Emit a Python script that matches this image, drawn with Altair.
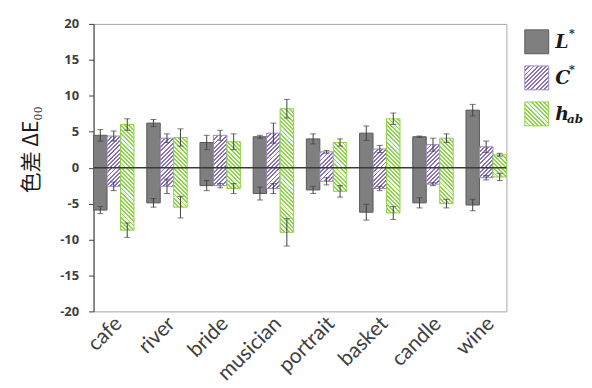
import altair as alt

categories = ["cafe", "river", "bride", "musician", "portrait", "basket", "candle", "wine"]
series = ["L", "C", "h"]

L_pos = [4.5, 6.2, 3.5, 4.3, 4.0, 4.8, 4.3, 8.0]
L_pos_err = [0.8, 0.5, 1.0, 0.2, 0.7, 1.0, 0.1, 0.8]
L_neg = [-5.9, -4.9, -2.5, -3.6, -3.1, -6.2, -4.9, -5.2]
L_neg_err = [0.5, 0.6, 0.7, 0.9, 0.5, 1.1, 0.7, 0.8]

C_pos = [4.4, 4.1, 4.5, 4.8, 2.2, 2.6, 3.2, 2.9]
C_pos_err = [0.7, 0.6, 0.7, 1.4, 0.2, 0.5, 0.9, 0.8]
C_neg = [-2.6, -2.6, -2.5, -2.9, -1.9, -2.9, -2.3, -1.4]
C_neg_err = [0.6, 1.0, 0.3, 0.7, 0.5, 0.3, 0.2, 0.3]

h_pos = [6.0, 4.2, 3.6, 8.2, 3.5, 6.8, 4.1, 1.8]
h_pos_err = [0.8, 1.2, 1.1, 1.3, 0.5, 0.8, 0.6, 0.2]
h_neg = [-8.7, -5.5, -2.9, -9.0, -3.3, -6.3, -5.0, -1.3]
h_neg_err = [1.0, 1.5, 0.7, 1.9, 0.8, 0.9, 0.6, 0.5]

y_ticks = [-20, -15, -10, -5, 0, 5, 10, 15, 20]

# ---- styling ----
PLOT_W, PLOT_H = 415, 289
PAD_INNER = 0.24
PX_PER_UNIT = PLOT_H / 40.0
BAR_W = PLOT_W / (len(categories) - PAD_INNER) * (1 - PAD_INNER) / 3

GRAY_FILL, GRAY_STROKE = "#7f7f7f", "#5a5a5a"
PURPLE_LINE, PURPLE_BG, PURPLE_STROKE = "#8a70b4", "#ffffff", "#9c88c6"
GREEN_LINE, GREEN_BG, GREEN_STROKE = "#92d050", "#f1f9ea", "#92d050"


def hatch(W, H, direction, line, bg, period=4.2, frac=0.45):
    W = max(W, 1.0)
    H = max(H, 1.0)
    total = W + H
    k = total / (W * W + H * H)
    if direction == "/":
        x1, y1, x2, y2 = 0, 0, k * W, k * H
    else:
        x1, y1, x2, y2 = 0, 1, k * W, 1 - k * H
    stops = []
    i = 0
    while i * period < total:
        a = i * period / total
        b = min((i + frac) * period / total, 1.0)
        c = min((i + 1) * period / total, 1.0)
        stops += [
            {"offset": a, "color": line},
            {"offset": b, "color": line},
            {"offset": b, "color": bg},
            {"offset": c, "color": bg},
        ]
        i += 1
    return {"gradient": "linear", "x1": x1, "y1": y1, "x2": x2, "y2": y2, "stops": stops}


def fill_for(ser, W, H):
    if ser == "L":
        return GRAY_FILL
    if ser == "C":
        return hatch(W, H, "/", PURPLE_LINE, PURPLE_BG)
    return hatch(W, H, "\\", GREEN_LINE, GREEN_BG)


stroke_of = {"L": GRAY_STROKE, "C": PURPLE_STROKE, "h": GREEN_STROKE}

vals = {
    "L": [(L_pos, L_pos_err), (L_neg, L_neg_err)],
    "C": [(C_pos, C_pos_err), (C_neg, C_neg_err)],
    "h": [(h_pos, h_pos_err), (h_neg, h_neg_err)],
}

bar_rows = []
err_rows = []
for s in series:
    for arr, errs in vals[s]:
        for cat, v, e in zip(categories, arr, errs):
            bar_rows.append({
                "cat": cat, "ser": s, "v": v,
                "grad": fill_for(s, BAR_W, abs(v) * PX_PER_UNIT),
                "stroke": stroke_of[s],
            })
            err_rows.append({"cat": cat, "ser": s, "lo": v - e, "hi": v + e})

x_enc = alt.X("cat:N", sort=categories,
              scale=alt.Scale(paddingInner=PAD_INNER, paddingOuter=0),
              axis=alt.Axis(title=None, labelAngle=-45, labelAlign="right",
                            labelBaseline="middle", labelFontSize=21,
                            labelFont="Lato", labelColor="#404040",
                            ticks=False, domain=False, labelPadding=9,
                            labelOffset=5))
xoff_enc = alt.XOffset("ser:N", sort=series,
                       scale=alt.Scale(domain=series, paddingInner=0, paddingOuter=0))
y_scale = alt.Scale(domain=[-20, 20], nice=False, zero=False)
y_axis = alt.Axis(values=y_ticks, tickCount=9, grid=False, title="色差 ΔE₀₀",
                  titleFont="Noto Sans CJK JP", titleFontSize=21,
                  titleFontWeight="normal", titleColor="#1a1a1a",
                  titleX=-62, titleY=126, titleAngle=-90,
                  titleAlign="center", titleBaseline="middle",
                  labelFontSize=13, labelFontWeight="bold",
                  labelFont="Open Sans", labelColor="#404040",
                  labelExpr="datum.value + ''",
                  labelOverlap=False, labelFlush=False,
                  domainColor="#404040", tickColor="#404040",
                  tickSize=5, labelPadding=10)

bars = alt.Chart(alt.Data(values=bar_rows)).mark_bar(strokeWidth=1).encode(
    x=x_enc,
    xOffset=xoff_enc,
    y=alt.Y("v:Q", stack=None, scale=y_scale, axis=y_axis),
    fill=alt.Fill("grad:N", scale=None),
    stroke=alt.Stroke("stroke:N", scale=None),
)

err_base = alt.Chart(alt.Data(values=err_rows)).encode(x=x_enc, xOffset=xoff_enc)
err_rule = err_base.mark_rule(color="#404040", strokeWidth=1).encode(
    y=alt.Y("lo:Q", scale=y_scale, axis=y_axis), y2="hi:Q")
cap_lo = err_base.mark_tick(color="#404040", thickness=1, size=6).encode(
    y=alt.Y("lo:Q", scale=y_scale, axis=y_axis))
cap_hi = err_base.mark_tick(color="#404040", thickness=1, size=6).encode(
    y=alt.Y("hi:Q", scale=y_scale, axis=y_axis))

zero = alt.Chart(alt.Data(values=[{"z": 0}])).mark_rule(
    color="#3a3a3a", strokeWidth=1.5).encode(
    y=alt.Y("z:Q", scale=y_scale, axis=y_axis))

main = alt.layer(bars, zero, err_rule, cap_lo, cap_hi).properties(
    width=PLOT_W, height=PLOT_H)

# ---- custom legend ----
legend_rows = [
    {"idx": 0, "ser": "L", "base": "L", "sup": "*", "sub": "",
     "grad": fill_for("L", 24, 24), "stroke": GRAY_STROKE},
    {"idx": 1, "ser": "C", "base": "C", "sup": "*", "sub": "",
     "grad": fill_for("C", 24, 24), "stroke": PURPLE_STROKE},
    {"idx": 2, "ser": "h", "base": "h", "sup": "", "sub": "ab",
     "grad": fill_for("h", 24, 24), "stroke": GREEN_STROKE},
]
leg_y = alt.Y("idx:Q", scale=alt.Scale(domain=[0, 2], range=[18, 90.5]), axis=None)
leg_base = alt.Chart(alt.Data(values=legend_rows)).encode(y=leg_y)
leg_sq = leg_base.mark_square(size=576, strokeWidth=1, opacity=1).encode(
    x=alt.value(18.5),
    fill=alt.Fill("grad:N", scale=None),
    stroke=alt.Stroke("stroke:N", scale=None),
)
leg_txt = leg_base.mark_text(align="left", baseline="middle", font="DejaVu Serif",
                             fontSize=19, fontWeight="bold", fontStyle="italic",
                             color="#1a1a1a").encode(x=alt.value(37), text="base:N")
leg_sup = leg_base.mark_text(align="left", baseline="middle", font="DejaVu Serif",
                             fontSize=11, fontWeight="bold", fontStyle="italic",
                             color="#1a1a1a", dy=-8).encode(x=alt.value(51), text="sup:N")
leg_sub = leg_base.mark_text(align="left", baseline="middle", font="DejaVu Serif",
                             fontSize=12, fontWeight="bold", fontStyle="italic",
                             color="#1a1a1a", dy=5).encode(x=alt.value(49), text="sub:N")
legend = alt.layer(leg_sq, leg_txt, leg_sup, leg_sub).properties(
    width=62, height=110, view=alt.ViewBackground(stroke=None))

chart = alt.hconcat(main, legend, spacing=10).properties(
    padding={"left": 12, "top": 8, "right": 0, "bottom": 0}
).configure_view(stroke="#a6a6a6", strokeWidth=1)

chart.save("out.html", embed_options={"renderer": "svg", "actions": False})
